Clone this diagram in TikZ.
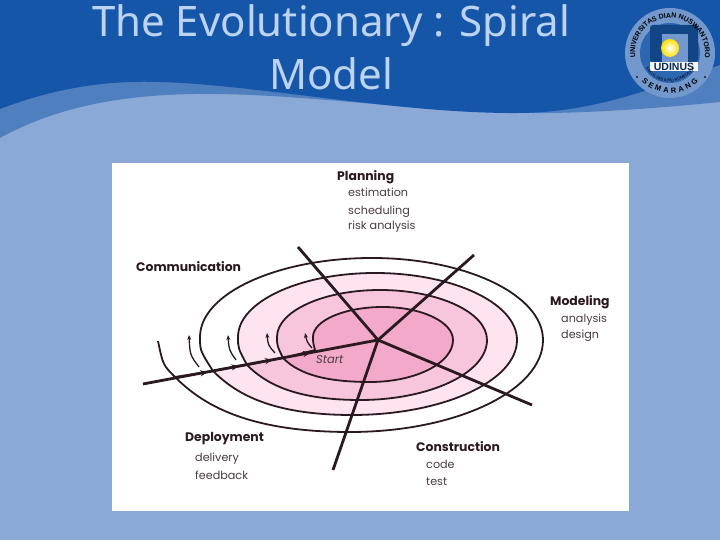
\documentclass[tikz,border=0pt]{standalone}
\usepackage{fontspec}
\setmainfont{Poppins}
\newfontfamily\titlefont{Noto Sans}
\newfontfamily\logofont{Liberation Sans}
\usetikzlibrary{arrows.meta, decorations.markings, decorations.text}
\definecolor{skyband}{HTML}{8AA9D6}
\definecolor{midband}{HTML}{4F7FBF}
\definecolor{deepband}{HTML}{1656A8}
\definecolor{titleblue}{HTML}{BCD3F2}
\definecolor{inkdark}{HTML}{2A1A20}
\definecolor{pinkA}{HTML}{F2A9CA}
\definecolor{pinkB}{HTML}{F8C6DC}
\definecolor{pinkC}{HTML}{FDE4EE}
\tikzset{
  phase/.style={anchor=base west, inner sep=0pt, text=inkdark, font=\fontsize{12.4}{14}\selectfont\bfseries},
  task/.style={anchor=base west, inner sep=0pt, text=inkdark!85, font=\fontsize{11.2}{13}\selectfont},
  headline/.style={anchor=base, inner sep=0pt, text=titleblue, font=\titlefont\fontsize{42}{46}\selectfont},
  spoke/.style={line width=2.8pt, draw=inkdark},
  curl/.style={line width=1.3pt, draw=inkdark, -{Stealth[length=5pt,width=4pt]}}
}
\newcommand{\ringtext}[1]{\path[postaction={decorate}, decoration={text along path, text align=center, text={#1}}]}
\begin{document}
\begin{tikzpicture}[x=1pt, y=1pt]
  \useasboundingbox (0,0) rectangle (720,540);
  % slide background
  \fill[skyband] (0,0) rectangle (720,540);
  \fill[midband] (0,540) -- (0,402) .. controls (60,435) and (130,447) .. (215,446)
    .. controls (320,445) and (430,426) .. (550,427)
    .. controls (610,428) and (670,433) .. (720,438) -- (720,540) -- cycle;
  \fill[deepband] (0,540) -- (0,431) .. controls (50,450) and (100,460) .. (160,458)
    .. controls (260,455) and (400,426) .. (520,427)
    .. controls (600,428) and (660,455) .. (720,475) -- (720,540) -- cycle;
  % title
  \node[headline] (titleA) at (331,503) {The Evolutionary : Spiral};
  \node[headline] (titleB) at (331,450) {Model};
  % logo
  \fill[skyband!60!midband] (670,487) circle[radius=45];
  \fill[midband!40!deepband] (670,487) circle[radius=30];
  \fill[deepband!80!black, rounded corners=3pt] (650,478) rectangle (698,515);
  \fill[skyband!80!deepband] (662,478) rectangle (688,506);
  \shade[inner color=white, outer color=yellow!75!orange] (670,492) circle[radius=9];
  \fill[white!92!skyband] (650,469) rectangle (698,478);
  \node[inner sep=0pt, text=deepband!50!black, font=\logofont\bfseries\fontsize{10.5}{11}\selectfont] (udinus) at (674,473.5) {UDINUS};
  \ringtext{|\logofont\bfseries\fontsize{7}{8}\selectfont|UNIVERSITAS DIAN NUSWANTORO}
    (670,487) ++(205:35) arc[start angle=205, end angle=-25, radius=35];
  \path[postaction={decorate}, decoration={text along path, text align={fit to path},
      text={|\logofont\bfseries\fontsize{7.5}{8}\selectfont|SEMARANG}}]
    (670,487) ++(225:40) arc[start angle=225, end angle=315, radius=40];
  \ringtext{|\logofont\fontsize{4.2}{5}\selectfont|FAKULTAS ILMU KOMPUTER}
    (670,487) ++(190:29) arc[start angle=190, end angle=350, radius=29];
  \fill[inkdark] (637,463) circle[radius=1.2] (705,463) circle[radius=1.2];
  % white figure panel
  \fill[white] (112,29) rectangle (629,377);
  % spiral turns, outside first
  \foreach \ax/\ay/\lx/\tx/\ty/\rx/\bx/\by/\nx/\ny/\tint in {
    213/169/200/372/282/543/350/108/175/163/white,
    247/175/238/375/267/517/352/125/213/169/pinkC,
    283/182/277/380/250/487/360/140/247/175/pinkB,
    315/190/313/383/233/453/370/158/283/182/pinkA}
    \draw[line width=1.8pt, draw=inkdark, fill=\tint]
      (\ax,\ay) .. controls ({\lx},{\ay+.6*(203-\ay)}) .. (\lx,203)
      .. controls ({\lx},{203+.55*(\ty-203)}) and ({\tx-.55*(\tx-\lx)},\ty) .. (\tx,\ty)
      .. controls ({\tx+.55*(\rx-\tx)},\ty) and ({\rx},{200+.55*(\ty-200)}) .. (\rx,200)
      .. controls ({\rx},{200-.55*(200-\by)}) and ({\bx+.55*(\rx-\bx)},\by) .. (\bx,\by)
      .. controls ({\bx-.6*(\bx-\nx)},\by) and ({\nx+.15*(\bx-\nx)},{\ny-.15*(\bx-\nx)}) .. (\nx,\ny)
      -- cycle;
  \draw[line width=1.8pt, draw=inkdark] (175,163) .. controls (163,175) .. (158,199);
  % small curls beside the axis
  \draw[curl] (312,192) .. controls (307,198) .. (305,207);
  \draw[curl] (275,187) .. controls (268,195) .. (267,207);
  \draw[curl] (236,180) .. controls (229,190) .. (228,205);
  \draw[curl] (199,173) .. controls (190,185) .. (189,205);
  % spokes
  \coordinate (hub) at (378,200);
  \coordinate (spokeNW) at (298,293);
  \coordinate (spokeNE) at (474,285);
  \coordinate (spokeSE) at (532,135);
  \coordinate (spokeS) at (333,70);
  \coordinate (spokeW) at (143,156);
  \draw[spoke] (hub) -- (spokeNW);
  \draw[spoke] (hub) -- (spokeNE);
  \draw[spoke] (hub) -- (spokeSE);
  \draw[spoke] (hub) -- (spokeS);
  \draw[spoke, postaction={decorate}, decoration={markings,
      mark=at position 0.285 with {\arrowreversed{Stealth[length=8pt,width=6pt]}},
      mark=at position 0.447 with {\arrowreversed{Stealth[length=8pt,width=6pt]}},
      mark=at position 0.59 with {\arrowreversed{Stealth[length=8pt,width=6pt]}},
      mark=at position 0.723 with {\arrowreversed{Stealth[length=8pt,width=6pt]}}}]
    (hub) -- (spokeW);
  \node[task, font=\fontsize{11.5}{13}\selectfont\itshape] (start) at (316,176) {Start};
  % labels
  \node[phase] (planning) at (337,359) {Planning};
  \node[task] (estimation) at (348,343) {estimation};
  \node[task] (scheduling) at (348,325) {scheduling};
  \node[task] (risk) at (348,310) {risk analysis};
  \node[phase] (communication) at (136,268) {Communication};
  \node[phase] (modeling) at (550,234) {Modeling};
  \node[task] (analysis) at (561,217) {analysis};
  \node[task] (design) at (561,201) {design};
  \node[phase] (deployment) at (185,98) {Deployment};
  \node[task] (delivery) at (195,78) {delivery};
  \node[task] (feedback) at (195,60) {feedback};
  \node[phase] (construction) at (416,88) {Construction};
  \node[task] (code) at (426,71) {code};
  \node[task] (test) at (426,54) {test};
\end{tikzpicture}
\end{document}
